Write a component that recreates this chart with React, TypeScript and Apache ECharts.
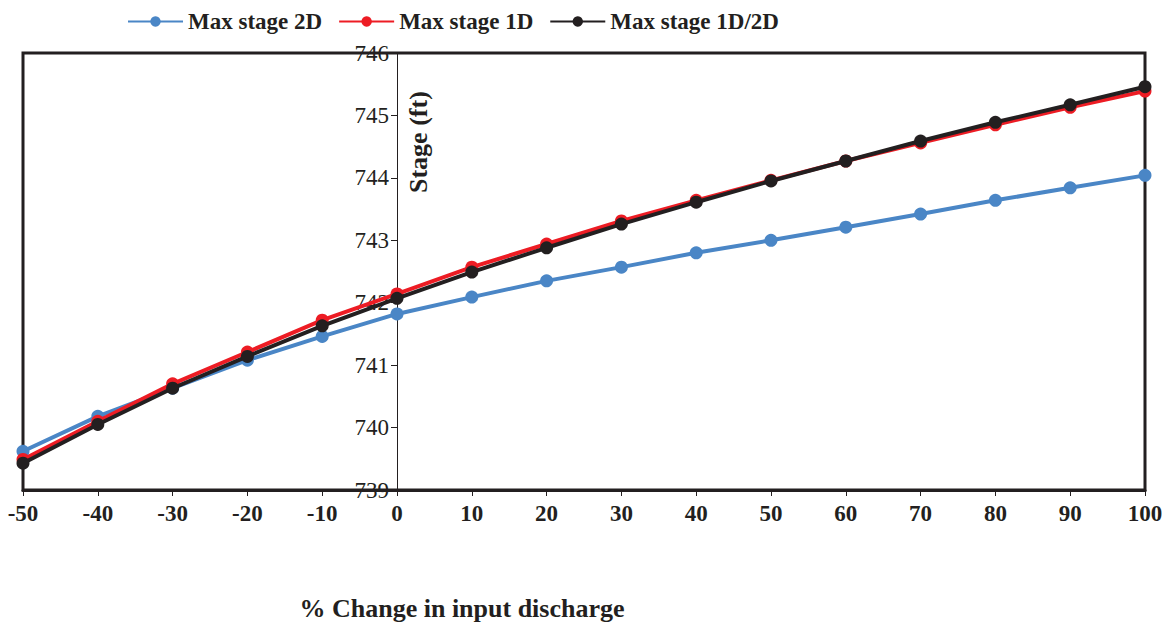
import React, { useEffect, useRef } from "react";
import * as echarts from "echarts";

const changes = [-50, -40, -30, -20, -10, 0, 10, 20, 30, 40, 50, 60, 70, 80, 90, 100];
const stage2D = [739.62, 740.18, 740.63, 741.08, 741.46, 741.82, 742.09, 742.35, 742.57, 742.8, 743.0, 743.21, 743.42, 743.64, 743.84, 744.04];
const stage1D = [739.49, 740.1, 740.7, 741.21, 741.72, 742.14, 742.57, 742.94, 743.31, 743.64, 743.96, 744.27, 744.56, 744.85, 745.13, 745.39];
const stage1D2D = [739.43, 740.05, 740.63, 741.14, 741.63, 742.07, 742.49, 742.88, 743.26, 743.61, 743.95, 744.27, 744.59, 744.89, 745.17, 745.46];
const seriesNames = ["Max stage 2D", "Max stage 1D", "Max stage 1D/2D"];
const seriesColors = ["#4a86c6", "#ed1c24", "#231f20"];

const FONT = "'Liberation Serif', 'Times New Roman', serif";

export default function App() {
  const ref = useRef<HTMLDivElement>(null);
  useEffect(() => {
    if (!ref.current) return;
    const chart = echarts.init(ref.current, undefined, { renderer: "svg" });
    const all = [stage2D, stage1D, stage1D2D];
    chart.setOption({
      animation: false,
      backgroundColor: "#ffffff",
      legend: {
        top: 10,
        left: 127,
        padding: 0,
        itemWidth: 55,
        itemHeight: 13,
        itemGap: 16,
        textStyle: { fontFamily: FONT, fontWeight: "bold", fontSize: 23, color: "#231f20" },
        data: seriesNames,
      },
      grid: {
        left: 23,
        right: 20,
        top: 53,
        bottom: 133,
        containLabel: false,
        outerBoundsMode: "none",
        show: true,
        borderColor: "#231f20",
        borderWidth: 3,
        backgroundColor: "transparent",
      },
      xAxis: {
        type: "value",
        min: -50,
        max: 100,
        interval: 10,
        axisLine: { show: true, onZero: false, lineStyle: { color: "#231f20", width: 3 } },
        axisTick: { show: true, inside: false, length: 6, lineStyle: { color: "#231f20", width: 1 } },
        axisLabel: { fontFamily: FONT, fontWeight: "bold", fontSize: 23, color: "#231f20", margin: 12 },
        splitLine: { show: false },
      },
      yAxis: {
        type: "value",
        position: "left",
        offset: -374,
        min: 739,
        max: 746,
        interval: 1,
        axisLine: { show: true, onZero: false, lineStyle: { color: "#231f20", width: 1 } },
        axisTick: { show: true, inside: false, length: 6, lineStyle: { color: "#231f20", width: 1 } },
        axisLabel: { fontFamily: FONT, fontSize: 23, color: "#231f20", margin: 8 },
        splitLine: { show: false },
      },
      graphic: [
        {
          type: "text",
          x: 405,
          y: 193,
          rotation: Math.PI / 2,
          style: {
            text: "Stage (ft)",
            fontFamily: FONT,
            fontWeight: "bold",
            fontSize: 26,
            fill: "#231f20",
            align: "left",
            verticalAlign: "top",
          },
        },
        {
          type: "text",
          x: 462,
          y: 608,
          style: {
            text: "% Change in input discharge",
            fontFamily: FONT,
            fontWeight: "bold",
            fontSize: 26,
            fill: "#231f20",
            align: "center",
            verticalAlign: "middle",
          },
        },
      ],
      series: seriesNames.map((name, i) => ({
        name,
        type: "line",
        data: changes.map((c, j) => [c, all[i][j]]),
        symbol: "circle",
        symbolSize: 13,
        lineStyle: { color: seriesColors[i], width: 4 },
        itemStyle: { color: seriesColors[i] },
        z: 2 + i,
      })),
    });
    return () => chart.dispose();
  }, []);
  return (
    <div
      ref={ref}
      style={{ position: "absolute", left: 0, top: 0, width: 1165, height: 623 }}
    />
  );
}
